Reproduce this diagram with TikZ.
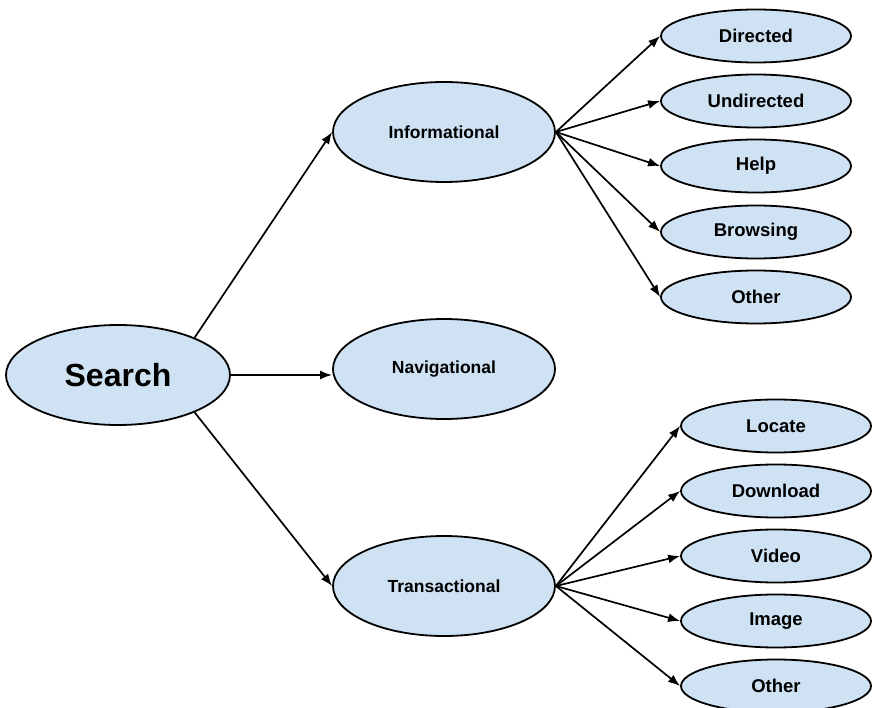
\documentclass[tikz,border=0pt]{standalone}
\usepackage{fontspec}
\setmainfont{Liberation Sans}
\usetikzlibrary{shapes.geometric,arrows.meta}
\definecolor{bubble}{HTML}{CFE2F3}
\tikzset{
  bub/.style={ellipse, draw=black, line width=1.8pt, fill=bubble, inner sep=0pt,
    font=\bfseries, text=black},
  rootbub/.style={bub, minimum width=224pt, minimum height=100pt, font=\bfseries\fontsize{32}{36}\selectfont},
  midbub/.style={bub, minimum width=222pt, minimum height=100pt, font=\bfseries\fontsize{17.5}{20}\selectfont},
  leafbub/.style={bub, minimum width=190pt, minimum height=53pt, font=\bfseries\fontsize{18.5}{21}\selectfont},
  link/.style={line width=1.7pt, -{Latex[length=12pt,width=9pt]}}
}
\begin{document}
\begin{tikzpicture}[x=1pt,y=-1pt]
\useasboundingbox (0,0) rectangle (872,708);
% root
\node[rootbub] (search) at (118,375) {Search};
% second level
\node[midbub] (info) at (444,132) {Informational};
\node[midbub] (nav)  at (444,369) {Navigational};
\node[midbub] (trans) at (444,586) {Transactional};
% informational leaves
\node[leafbub] (dir)  at (756,36)  {Directed};
\node[leafbub] (undir) at (756,101) {Undirected};
\node[leafbub] (help) at (756,166) {Help};
\node[leafbub] (brow) at (756,232) {Browsing};
\node[leafbub] (iother) at (756,297) {Other};
% transactional leaves
\node[leafbub] (loc)  at (776,426) {Locate};
\node[leafbub] (down) at (776,491) {Download};
\node[leafbub] (vid)  at (776,556) {Video};
\node[leafbub] (img)  at (776,621) {Image};
\node[leafbub] (tother) at (776,686) {Other};
% connectors
\draw[link] (search.26) -- (info.west);
\draw[link] (search.east) -- (nav.west |- search.east);
\draw[link] (search.-26) -- (trans.west);
\foreach \n in {dir,undir,help,brow,iother}
  \draw[link] (info.east) -- (\n.west);
\foreach \n in {loc,down,vid,img,tother}
  \draw[link] (trans.east) -- (\n.west);
\end{tikzpicture}
\end{document}
